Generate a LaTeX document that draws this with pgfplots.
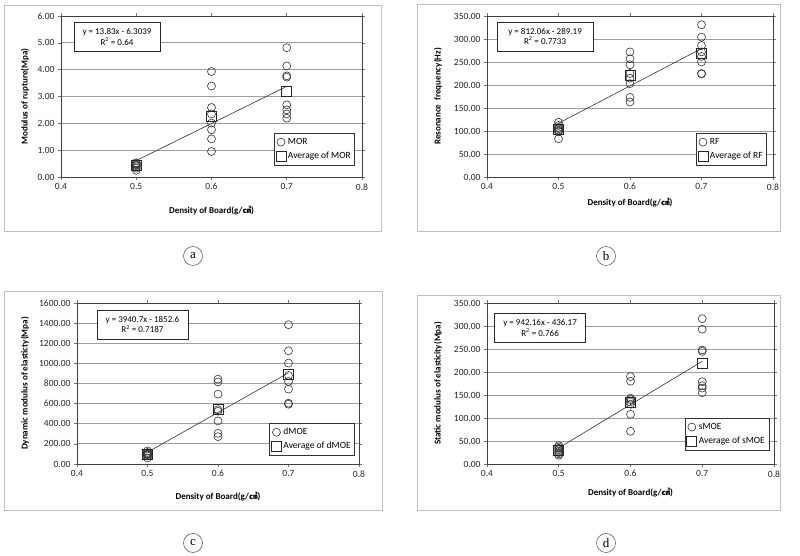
\documentclass[border=0pt]{standalone}
\usepackage{pgfplots}
\pgfplotsset{compat=1.18}
\usepackage{fontspec}
\setmainfont{Carlito}[BoldFont={Carlito Bold}]
\newfontfamily\cjk{Noto Sans CJK SC}
\newfontfamily\serif{Liberation Serif}
\newcommand\lblfont{\fontsize{9}{10}\selectfont\bfseries}

\pgfplotsset{
  panel/.style={
    scale only axis,
    height=161pt,
    xmin=0.4, xmax=0.8, ymin=0,
    xtick={0.4,0.5,0.6,0.7,0.8},
    ymajorgrids,
    grid style={black!38, line width=0.8pt},
    axis line style={black!75, line width=0.7pt},
    tick align=outside,
    major tick length=3pt,
    tick style={black!55, line width=0.6pt},
    /pgf/number format/assume math mode=true,
    tick label style={font=\fontsize{9.5}{11}\selectfont, text=black!85},
    xticklabel style={/pgf/number format/.cd, fixed, precision=1, fixed zerofill},
    yticklabel style={/pgf/number format/.cd, fixed, precision=2, fixed zerofill, 1000 sep={}},
    xlabel={Density of Board(g/{\cjk\fontsize{8.5}{9}\selectfont ㎤})},
    legend cell align=left,
    legend style={draw=black!80, line width=0.6pt, fill=white,
      font=\fontsize{9.5}{11}\selectfont, row sep=2pt, inner xsep=2pt, inner ysep=3pt,
      /tikz/every even column/.append style={column sep=0pt}},
    legend image code/.code={\draw[#1] plot coordinates {(0.12cm,0cm)};},
  },
  pts/.style={only marks, mark=o, mark size=4pt, black!80, mark options={line width=0.6pt}},
  avg/.style={only marks, mark=square, mark size=5pt, black!85, mark options={line width=0.7pt}},
  trend/.style={black!80, line width=0.6pt, no marks, forget plot},
}
\tikzset{
  eqbox/.style={draw=black!85, line width=0.6pt, fill=white, align=center,
    font=\fontsize{9}{10.5}\selectfont, inner sep=2pt, minimum height=29pt},
}

\begin{document}
\begin{tikzpicture}[x=1pt, y=1pt]
\useasboundingbox (0,0) rectangle (800,556);

% outer panel borders
\draw[black!25, line width=0.8pt] (4,556-5) rectangle (381,556-231);
\draw[black!25, line width=0.8pt] (417,556-4) rectangle (780,556-231);
\draw[black!25, line width=0.8pt] (4,556-291) rectangle (382,556-510);
\draw[black!25, line width=0.8pt] (417,556-295) rectangle (780,556-510);

% ---------- (a) MOR ----------
\begin{axis}[panel, at={(61pt,379pt)}, anchor=south west, width=301pt,
  ymax=6, ytick={0,1,2,3,4,5,6},
  ylabel={Modulus of rupture(Mpa)},
  every axis y label/.style={at={(axis description cs:-0.12,0.5)}, rotate=90, anchor=center, font=\lblfont},
  every axis x label/.style={at={(axis description cs:0.5,-0.211)}, anchor=center, font=\lblfont},
  legend style={at={(0.977,0.273)}, anchor=north east}]
\addplot[pts] coordinates {
 (0.5,0.25) (0.5,0.33) (0.5,0.38) (0.5,0.42) (0.5,0.45) (0.5,0.48) (0.5,0.50) (0.5,0.53)
 (0.6,3.93) (0.6,3.39) (0.6,2.59) (0.6,2.35) (0.6,2.01) (0.6,1.76) (0.6,1.42) (0.6,0.95)
 (0.7,4.82) (0.7,4.14) (0.7,3.77) (0.7,3.72) (0.7,2.69) (0.7,2.50) (0.7,2.35) (0.7,2.19)};
\addlegendentry{MOR}
\addplot[avg] coordinates {(0.5,0.42) (0.6,2.27) (0.7,3.21)};
\addlegendentry{Average of MOR}
\addplot[trend] coordinates {(0.5,0.6111) (0.7,3.3771)};
\node[eqbox, minimum width=86pt] at (rel axis cs:0.186,0.87) {y = 13.83x - 6.3039\\R\textsuperscript{2} = 0.64};
\end{axis}

% ---------- (b) RF ----------
\begin{axis}[panel, at={(487pt,379pt)}, anchor=south west, width=286pt,
  ymax=350, ytick={0,50,...,350},
  ylabel={Resonance\ \ frequency(Hz)},
  every axis y label/.style={at={(axis description cs:-0.171,0.5)}, rotate=90, anchor=center, font=\lblfont},
  every axis x label/.style={at={(axis description cs:0.5,-0.16)}, anchor=center, font=\lblfont},
  legend style={at={(0.979,0.273)}, anchor=north east}]
\addplot[pts] coordinates {
 (0.5,119) (0.5,112) (0.5,108) (0.5,105) (0.5,102) (0.5,100) (0.5,98) (0.5,83)
 (0.6,272) (0.6,257) (0.6,244) (0.6,225) (0.6,215) (0.6,203) (0.6,173) (0.6,163)
 (0.7,331) (0.7,304) (0.7,286) (0.7,272) (0.7,262) (0.7,250) (0.7,225) (0.7,224)};
\addlegendentry{RF}
\addplot[avg] coordinates {(0.5,103) (0.6,220) (0.7,268)};
\addlegendentry{Average of RF}
\addplot[trend] coordinates {(0.5,116.84) (0.7,279.25)};
\node[eqbox, minimum width=96pt] at (rel axis cs:0.203,0.873) {y = 812.06x - 289.19\\R\textsuperscript{2} = 0.7733};
\end{axis}

% ---------- (c) dMOE ----------
\begin{axis}[panel, at={(77pt,92pt)}, anchor=south west, width=282pt,
  ymax=1600, ytick={0,200,...,1600},
  ylabel={Dynamic modulus of elasticty(Mpa)},
  every axis y label/.style={at={(axis description cs:-0.184,0.5)}, rotate=90, anchor=center, font=\lblfont},
  every axis x label/.style={at={(axis description cs:0.5,-0.203)}, anchor=center, font=\lblfont},
  legend style={at={(0.986,0.255)}, anchor=north east}]
\addplot[pts] coordinates {
 (0.5,130) (0.5,115) (0.5,105) (0.5,100) (0.5,95) (0.5,90) (0.5,80) (0.5,60)
 (0.6,843) (0.6,815) (0.6,694) (0.6,540) (0.6,525) (0.6,428) (0.6,305) (0.6,272)
 (0.7,1384) (0.7,1125) (0.7,1003) (0.7,880) (0.7,820) (0.7,744) (0.7,604) (0.7,594)};
\addlegendentry{dMOE}
\addplot[avg] coordinates {(0.5,100) (0.6,544) (0.7,886)};
\addlegendentry{Average of dMOE}
\addplot[trend] coordinates {(0.5,117.75) (0.7,905.89)};
\node[eqbox, minimum width=91pt] at (rel axis cs:0.232,0.866) {y = 3940.7x - 1852.6\\R\textsuperscript{2} = 0.7187};
\end{axis}

% ---------- (d) sMOE ----------
\begin{axis}[panel, at={(487pt,92pt)}, anchor=south west, width=287pt,
  ymax=350, ytick={0,50,...,350},
  ylabel={Static modulus of elasticity(Mpa)},
  every axis y label/.style={at={(axis description cs:-0.171,0.5)}, rotate=90, anchor=center, font=\lblfont},
  every axis x label/.style={at={(axis description cs:0.5,-0.18)}, anchor=center, font=\lblfont},
  legend style={at={(0.983,0.286)}, anchor=north east}]
\addplot[pts] coordinates {
 (0.5,40) (0.5,37) (0.5,34) (0.5,31) (0.5,28) (0.5,25) (0.5,22) (0.5,19)
 (0.6,190) (0.6,180) (0.6,143) (0.6,140) (0.6,135) (0.6,130) (0.6,108) (0.6,71)
 (0.7,316) (0.7,293) (0.7,248) (0.7,245) (0.7,179) (0.7,170) (0.7,165) (0.7,155)};
\addlegendentry{sMOE}
\addplot[avg] coordinates {(0.5,30.5) (0.6,135) (0.7,219)};
\addlegendentry{Average of sMOE}
\addplot[trend] coordinates {(0.5,34.91) (0.7,223.34)};
\node[eqbox, minimum width=91pt] at (rel axis cs:0.185,0.845) {y = 942.16x - 436.17\\R\textsuperscript{2} = 0.766};
\end{axis}

% panel letters
\foreach \lx/\ly/\lt in {193/256/a, 606/256/b, 193/543/c, 606/543/d}
  \node[draw=black!70, line width=0.5pt, circle, minimum size=19pt, inner sep=0pt,
        font=\serif\fontsize{13}{13}\selectfont] at (\lx,556-\ly) {\lt};
\end{tikzpicture}
\end{document}
